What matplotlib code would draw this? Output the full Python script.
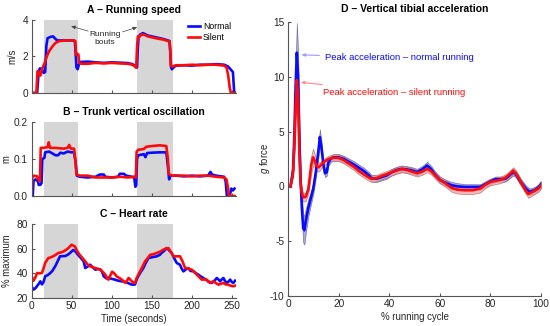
"""Running speed, trunk oscillation, heart rate and tibial acceleration panels."""

import matplotlib as mpl
import matplotlib.pyplot as plt
import numpy as np

# ---- data -----------------------------------------------------------------------
bouts = [(15, 58), (132, 176)]

t_speed_normal = [0, 7, 9, 10.5, 13, 15, 17, 18.5, 20, 24, 27, 29, 32, 40, 50, 54, 55, 56, 57.5,
                  59, 61, 70, 80, 90, 100, 110, 120, 126, 130, 131.5, 132.5, 133.5, 136, 139, 145,
                  155, 165, 172, 173, 174, 175, 177, 180, 190, 200, 210, 220, 230, 240, 245, 249,
                  251, 252.5, 254]
speed_normal = [0, 0, 1.2, 1.35, 1.3, 1.1, 1.15, 2.6, 3.0, 3.08, 3.1, 3.0, 2.88, 2.88, 2.88, 2.85,
                2.2, 1.4, 1.3, 1.55, 1.7, 1.72, 1.68, 1.65, 1.68, 1.66, 1.64, 1.58, 1.45, 1.4, 2.5,
                3.1, 3.22, 3.28, 3.15, 3.05, 2.95, 2.85, 2.2, 1.4, 1.3, 1.4, 1.5, 1.52, 1.5, 1.55,
                1.55, 1.58, 1.55, 1.45, 1.25, 1.15, 0.1, 0]

t_speed_silent = [0, 6, 7.5, 9, 11, 13, 16, 19, 22, 26, 30, 35, 45, 53, 54.5, 55.5, 57, 58.5, 59.5,
                  62, 70, 80, 90, 100, 110, 120, 126, 129, 130.5, 131.5, 132.5, 134, 137, 140, 145,
                  155, 165, 172, 173, 173.5, 176, 180, 190, 200, 210, 220, 230, 240, 243, 245, 247,
                  248.5, 254]
speed_silent = [0, 0, 1.2, 1.15, 0.95, 1.3, 1.6, 2.0, 2.3, 2.55, 2.75, 2.85, 2.88, 2.88, 2.85, 2.1,
                2.15, 2.1, 1.65, 1.6, 1.6, 1.65, 1.62, 1.65, 1.62, 1.6, 1.55, 1.45, 1.38, 2.5, 3.1,
                3.05, 3.2, 3.2, 3.1, 3.0, 2.92, 2.82, 2.3, 1.5, 1.45, 1.52, 1.52, 1.55, 1.52, 1.55,
                1.55, 1.5, 1.4, 1.0, 0.3, 0, 0]

t_osc_normal = [0, 1.5, 2.5, 5, 8, 9, 11, 12.5, 13.5, 16, 17, 22, 26, 30, 33, 36, 40, 45, 50, 53,
                55, 56.5, 60, 70, 80, 85, 90, 92, 100, 108, 110, 115, 118, 125, 128, 129.5, 130.5,
                131.5, 133, 140, 142, 144, 150, 160, 168, 170, 171.5, 173, 180, 190, 200, 210,
                220, 223, 225, 230, 240, 242, 243.5, 247, 249, 251, 253]
osc_normal = [0, 0, 0.04, 0.045, 0.04, 0.03, 0.03, 0.035, 0.1, 0.103, 0.118, 0.12, 0.115, 0.11,
              0.11, 0.117, 0.115, 0.12, 0.118, 0.118, 0.09, 0.055, 0.052, 0.05, 0.052, 0.058,
              0.058, 0.052, 0.05, 0.052, 0.06, 0.06, 0.055, 0.052, 0.05, 0.025, 0.03, 0.1, 0.11,
              0.113, 0.105, 0.116, 0.117, 0.118, 0.118, 0.08, 0.045, 0.055, 0.055, 0.053, 0.055,
              0.053, 0.055, 0.065, 0.058, 0.055, 0.052, 0.04, 0.0, 0.0, 0.02, 0.015, 0.02]

t_osc_silent = [0, 1, 3, 7, 9, 10.5, 11.5, 15, 20, 21.5, 23, 30, 40, 45, 47, 49, 53, 54.5, 56, 60,
                70, 80, 90, 100, 110, 120, 128, 130, 131, 133, 140, 143, 150, 160, 168, 170, 171,
                175, 190, 200, 210, 220, 230, 240, 243, 245, 246, 253]
osc_silent = [0, 0.05, 0.055, 0.053, 0.042, 0.04, 0.13, 0.13, 0.132, 0.145, 0.13, 0.13, 0.128,
              0.13, 0.138, 0.128, 0.128, 0.1, 0.058, 0.055, 0.055, 0.05, 0.05, 0.05, 0.052, 0.05,
              0.052, 0.05, 0.12, 0.125, 0.127, 0.133, 0.135, 0.137, 0.135, 0.1, 0.06, 0.055,
              0.055, 0.053, 0.055, 0.055, 0.052, 0.05, 0.045, 0.02, 0, 0]

t_hr_normal = [0, 2.5, 5, 6.7, 9, 11, 13, 15, 17, 20, 23, 26, 29.5, 32, 35.5, 40, 42, 45, 48, 52,
               55, 58, 62, 65, 67, 70, 73, 76, 79.5, 83, 86, 88, 90, 93, 96, 100, 104, 108, 112.5,
               117, 121, 124, 127, 129, 131, 133, 136, 139.4, 142, 145.7, 150, 156, 160, 162,
               165, 168.5, 171, 174.7, 178, 181, 185, 187, 189.3, 192, 195.5, 198, 201.8, 205,
               208, 211, 214.2, 217, 220.5, 224.6, 228, 230.9, 233, 235, 237, 239.2, 241, 243.3,
               245, 247.5, 249.5, 251.6, 253.7]
hr_normal = [29.5, 26.8, 28, 29.5, 31.5, 33.5, 31, 33, 37.6, 38.5, 40, 42, 45.7, 49, 53.8, 54, 54,
             55, 56.5, 59, 57.5, 55, 52, 49.7, 44.3, 45.5, 47, 45, 43, 43.5, 43, 41, 37.6, 36,
             36.5, 35.5, 34.9, 34, 33.5, 33, 32, 31, 30.8, 31, 35, 37.6, 41, 44.3, 48, 52.4, 53,
             53.8, 55, 56.5, 58, 60.5, 59, 56.5, 52, 48.4, 47, 44, 41.6, 43, 44.3, 42, 41.6, 40,
             38.9, 37.5, 36.2, 35, 33.5, 32.2, 34, 36.2, 35, 33.5, 35, 36.2, 34, 32.2, 33, 34.9,
             33, 32.2, 34]

t_hr_silent = [0, 2.5, 5, 7, 10, 13, 15, 17, 21, 24, 27, 30, 33.5, 37, 40, 43, 46, 50, 54, 57, 60,
               64, 67, 70, 73, 76, 79.5, 83, 86, 89, 92, 94, 96, 98, 100.5, 103, 106, 110, 112.5,
               115, 117, 119, 121, 123, 125, 127, 129, 131, 135, 138, 141.5, 145, 147.7, 152,
               156, 160, 164.4, 167, 170.6, 174, 176.8, 180, 185, 188, 191.4, 195, 199.7, 203,
               206, 209, 212.2, 215, 218.4, 220, 222.5, 224.6, 226.7, 230, 233, 236, 239.2, 242,
               245.4, 248, 251.6, 254]
hr_silent = [37.6, 34, 37, 40.3, 40, 40.3, 44, 48.4, 52.4, 53, 53.8, 55, 56.5, 57, 57.8, 59, 60.5,
             63.2, 61.8, 58, 55, 52, 49.7, 47, 45.7, 45, 44.3, 43.5, 43, 41, 38.9, 36, 34.9, 38,
             41.3, 40, 37.6, 36, 34.9, 33.5, 32.2, 34, 36.2, 35, 33.5, 32.5, 32.2, 36.2, 41.3, 45,
             49.7, 52.5, 55, 55.5, 56.5, 57.5, 59.2, 60, 60.5, 57, 53.8, 53.8, 53.8, 50, 44.3, 44,
             43, 41, 38.9, 37, 34.9, 35, 34.9, 33.5, 32.2, 33, 33.5, 32, 30.8, 31.5, 32.2, 31,
             30.8, 30, 29.5, 30]

cycle_normal = [1, 2, 2.5, 3, 3.5, 4, 4.5, 5, 5.5, 6, 6.5, 7, 8, 9, 10, 11, 12, 12.6, 13.2, 14,
                14.6, 15.3, 16, 17, 18, 20, 22, 24, 26, 28, 30, 32, 33, 35, 37, 39, 41, 43, 45,
                47, 49, 51, 53, 55, 56.5, 58, 60, 62, 64.7, 67, 70, 73, 76, 78, 80, 82, 84, 86,
                88, 89, 90, 92, 94, 95.5, 97.5, 99, 100]
acc_normal = [0.0, 1.5, 4.5, 9, 12.2, 10, 4.5, 0.5, -2, -3.8, -4.0, -3.2, -2, -1.1, -0.2, 1.3, 3.2,
              4.5, 3.6, 2.0, 1.2, 1.3, 2.2, 2.55, 2.65, 2.65, 2.5, 2.25, 2.0, 1.7, 1.4, 1.0, 0.75,
              0.7, 0.85, 1.0, 1.3, 1.5, 1.6, 1.55, 1.45, 1.3, 1.55, 1.9, 1.6, 1.1, 0.6, 0.35, 0.1,
              0.0, -0.05, -0.05, -0.05, 0.2, 0.45, 0.65, 0.65, 0.7, 1.1, 1.3, 1.15, 0.4, -0.2,
              -0.5, -0.35, -0.1, 0.2]
sd_normal = [0.1, 0.5, 1.2, 2.0, 2.7, 2.3, 1.2, 0.8, 1.0, 1.3, 1.3, 1.1, 0.8, 0.6, 0.5, 0.5, 0.6,
             0.7, 0.6, 0.4, 0.35, 0.35, 0.3, 0.3, 0.3, 0.3, 0.3, 0.3, 0.3, 0.3, 0.3, 0.3, 0.3,
             0.3, 0.3, 0.3, 0.3, 0.3, 0.3, 0.3, 0.3, 0.3, 0.3, 0.35, 0.3, 0.3, 0.3, 0.3, 0.3,
             0.3, 0.25, 0.25, 0.25, 0.25, 0.25, 0.25, 0.25, 0.25, 0.3, 0.3, 0.3, 0.3, 0.3, 0.3,
             0.3, 0.3, 0.3]

cycle_silent = [1, 2, 2.5, 3, 3.5, 4, 4.5, 5, 5.5, 6, 7, 8, 8.6, 9.2, 9.9, 10.5, 11.2, 12.2, 13,
                14, 16, 18, 20, 22, 24, 26, 28, 30, 32, 33, 35, 37, 39, 41, 43, 45, 47, 49, 51,
                53, 55, 56.5, 58, 60, 62, 64.7, 67, 70, 73, 76, 78, 80, 82, 84, 86, 88, 89, 90,
                92, 94, 95, 97.5, 99, 100]
acc_silent = [0.0, 1.2, 3.5, 7, 9.7, 8, 3.0, 0.2, -0.6, -1.0, -0.95, -0.3, 0.8, 2.0, 2.65, 2.4,
              1.9, 1.75, 1.95, 2.2, 2.5, 2.62, 2.6, 2.4, 2.1, 1.8, 1.4, 1.1, 0.8, 0.7, 0.75, 0.95,
              1.1, 1.3, 1.45, 1.6, 1.5, 1.35, 1.2, 1.35, 1.6, 1.4, 1.05, 0.6, 0.3, -0.15, -0.3,
              -0.35, -0.35, -0.2, 0.15, 0.4, 0.5, 0.6, 0.8, 1.2, 1.45, 1.2, 0.4, -0.4, -0.7, -0.4,
              -0.2, 0.1]
sd_silent = [0.1, 0.3, 0.5, 0.6, 0.5, 0.5, 0.5, 0.4, 0.4, 0.4, 0.4, 0.4, 0.6, 0.8, 0.8, 0.6, 0.5,
             0.4, 0.35, 0.3, 0.3, 0.3, 0.3, 0.3, 0.3, 0.3, 0.3, 0.3, 0.3, 0.3, 0.3, 0.3, 0.3,
             0.3, 0.3, 0.3, 0.3, 0.3, 0.3, 0.3, 0.3, 0.3, 0.3, 0.3, 0.3, 0.35, 0.35, 0.35, 0.35,
             0.35, 0.3, 0.3, 0.3, 0.3, 0.3, 0.3, 0.3, 0.3, 0.3, 0.3, 0.35, 0.3, 0.3, 0.3]

# ---- style ------------------------------------------------------------------------
BLUE = "#0a0aff"
RED = "#ff0a0a"
SHADE = "#d6d6d6"
AXIS = "#555555"
TEXT = "#262626"

mpl.rcParams.update(
    {
        "font.family": ["Liberation Sans", "DejaVu Sans"],
        "font.size": 7,
        "axes.titlesize": 7.5,
        "axes.titleweight": "bold",
        "axes.labelsize": 6.9,
        "axes.unicode_minus": False,
        "xtick.labelsize": 7.3,
        "ytick.labelsize": 7.3,
        "axes.edgecolor": AXIS,
        "axes.linewidth": 0.8,
        "xtick.color": AXIS,
        "ytick.color": AXIS,
        "xtick.labelcolor": TEXT,
        "ytick.labelcolor": TEXT,
        "xtick.direction": "in",
        "ytick.direction": "in",
        "xtick.major.size": 2.5,
        "ytick.major.size": 2.5,
        "xtick.major.pad": 2.5,
        "ytick.major.pad": 2.5,
        "mathtext.fontset": "custom",
        "mathtext.it": "Liberation Sans:italic",
        "mathtext.rm": "Liberation Sans",
    }
)

fig = plt.figure(figsize=(5.5, 3.26), dpi=100)
LW = 1.9


def time_axes(rect, title, ylabel, ylim, yticks, label_x, last=False):
    ax = fig.add_axes(rect)
    for lo, hi in bouts:
        ax.axvspan(lo, hi, color=SHADE, lw=0, zorder=0)
    ax.set_xlim(0, 255)
    ax.set_ylim(*ylim)
    ax.set_yticks(yticks)
    ax.set_xticks([0, 50, 100, 150, 200, 250])
    if not last:
        ax.tick_params(axis="x", labelbottom=False)
    ax.spines[["top", "right"]].set_visible(False)
    ax.set_title(title, pad=5, color="black")
    ax.set_ylabel(ylabel, color=TEXT, va="center")
    ax.yaxis.set_label_coords(label_x, 0.5)
    return ax


# A - running speed
ax_a = time_axes([0.0573, 0.7147, 0.372, 0.224], "A \u2013 Running speed", "m/s", (0, 4),
                 [0, 2, 4], -0.095)
ax_a.plot(t_speed_normal, speed_normal, color=BLUE, lw=LW, label="Normal")
ax_a.plot(t_speed_silent, speed_silent, color=RED, lw=LW, label="Silent")
ax_a.legend(loc="upper right", bbox_to_anchor=(1.0, 1.04), frameon=False, handlelength=1.4,
            handletextpad=0.3, labelspacing=0.15, borderaxespad=0.2, fontsize=6.2)
ax_a.text(91.5, 3.0, "Running\nbouts", ha="center", va="center", color=TEXT, fontsize=6,
          linespacing=1.15)
arrow = dict(arrowstyle="-|>,head_length=0.35,head_width=0.15", color="#444444", lw=0.5)
ax_a.annotate("", xy=(46, 3.7), xytext=(74, 3.35), arrowprops=arrow)
ax_a.annotate("", xy=(135, 3.65), xytext=(110, 3.3), arrowprops=arrow)

# B - trunk vertical oscillation
ax_b = time_axes([0.0573, 0.3988, 0.372, 0.227], "B \u2013 Trunk vertical oscillation", "m",
                 (0, 0.2), [0, 0.1, 0.2], -0.125)
ax_b.plot(t_osc_normal, osc_normal, color=BLUE, lw=LW)
ax_b.plot(t_osc_silent, osc_silent, color=RED, lw=LW)

# C - heart rate
ax_c = time_axes([0.0573, 0.0859, 0.372, 0.227], "C \u2013 Heart rate", "% maximum",
                 (20, 80), [20, 40, 60, 80], -0.122, last=True)
ax_c.plot(t_hr_normal, hr_normal, color=BLUE, lw=LW)
ax_c.plot(t_hr_silent, hr_silent, color=RED, lw=LW)
ax_c.set_xlabel("Time (seconds)", labelpad=1.5, color=TEXT)

# D - vertical tibial acceleration
ax_d = fig.add_axes([0.5236, 0.092, 0.46, 0.8405])
cn = np.array(cycle_normal)
an = np.array(acc_normal)
sn = np.array(sd_normal)
cs = np.array(cycle_silent)
a_s = np.array(acc_silent)
ss = np.array(sd_silent)
ax_d.fill_between(cn, an - sn, an + sn, facecolor="#8c8cdc", edgecolor="#5a5a8c", lw=0.5,
                  alpha=0.75)
ax_d.plot(cn, an, color=BLUE, lw=LW)
ax_d.fill_between(cs, a_s - ss, a_s + ss, facecolor="#f0a0a0", edgecolor="#a06464", lw=0.5,
                  alpha=0.75)
ax_d.plot(cs, a_s, color=RED, lw=LW)
ax_d.set_xlim(0, 100)
ax_d.set_ylim(-10, 15)
ax_d.set_xticks([0, 20, 40, 60, 80, 100])
ax_d.set_yticks([-10, -5, 0, 5, 10, 15])
ax_d.spines[["top", "right"]].set_visible(False)
ax_d.set_title("D \u2013 Vertical tibial acceleration", pad=7.5, color="black")
ax_d.set_xlabel("% running cycle", labelpad=1.5, color=TEXT)
ax_d.set_ylabel("$\\mathit{g}$ force", color=TEXT, va="center")
ax_d.yaxis.set_label_coords(-0.09, 0.5)
ax_d.annotate("Peak acceleration \u2013 normal running", xy=(5.3, 12.0), xytext=(14.6, 11.75),
              color=BLUE, va="center", fontsize=6.8,
              arrowprops=dict(arrowstyle="-|>,head_length=0.3,head_width=0.12",
                              color="#9a9aff", lw=0.8, shrinkB=0))
ax_d.annotate("Peak acceleration \u2013 silent running", xy=(5.0, 9.5), xytext=(13.8, 8.6),
              color=RED, va="center", fontsize=6.8,
              arrowprops=dict(arrowstyle="-|>,head_length=0.3,head_width=0.12",
                              color="#ff8a8a", lw=0.8, shrinkB=0))

fig.savefig("out.png", dpi=100)
